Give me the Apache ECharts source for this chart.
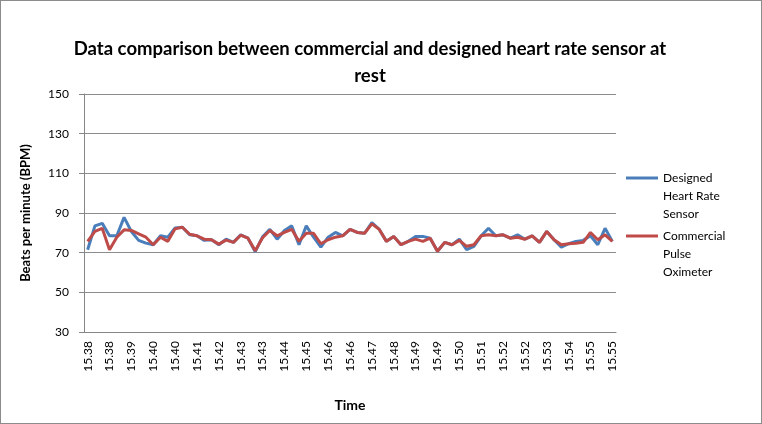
<!DOCTYPE html>
<html>
<head>
<meta charset="utf-8">
<script src="https://cdn.jsdelivr.net/npm/echarts@6/dist/echarts.min.js"></script>
<style>
  html, body { margin: 0; padding: 0; background: #fff; }
  #main { width: 760px; height: 422px; border: 1px solid #8c8c8c; }
</style>
</head>
<body>
<div id="main"></div>
<script>
// time stamps (one per sample)
const times = [
  '15.38','15.38','15.38','15.38','15.39','15.39','15.39','15.39','15.40','15.40',
  '15.40','15.40','15.40','15.41','15.41','15.41','15.41','15.42','15.42','15.42',
  '15.42','15.43','15.43','15.43','15.43','15.43','15.44','15.44','15.44','15.44',
  '15.45','15.45','15.45','15.46','15.46','15.46','15.46','15.46','15.47','15.47',
  '15.47','15.48','15.48','15.48','15.48','15.49','15.49','15.49','15.49','15.49',
  '15.50','15.50','15.50','15.50','15.51','15.51','15.51','15.52','15.52','15.52',
  '15.52','15.52','15.53','15.53','15.53','15.54','15.54','15.54','15.55','15.55',
  '15.55','15.55','15.55'
];

// designed heart rate sensor (BPM)
const designed = [
  71.5, 83.5, 84.8, 78.5, 78.5, 87.8, 80.7, 76.2, 74.8, 74.0,
  78.5, 77.8, 82.5, 82.8, 79.0, 78.5, 76.2, 76.5, 74.0, 76.8,
  75.2, 79.0, 77.3, 70.5, 78.0, 81.8, 76.8, 81.2, 83.5, 74.0,
  83.5, 77.8, 72.8, 77.8, 80.2, 78.5, 81.8, 80.2, 79.8, 85.2,
  81.8, 75.7, 78.2, 74.0, 75.7, 78.2, 78.2, 77.3, 70.7, 75.2,
  74.0, 76.8, 71.5, 73.2, 78.5, 82.3, 78.5, 79.0, 77.3, 79.0,
  76.8, 78.5, 75.2, 80.7, 76.5, 72.8, 74.5, 75.7, 76.2, 78.5,
  74.0, 82.3, 75.7
];

// commercial pulse oximeter (BPM)
const commercial = [
  75.7, 80.7, 82.3, 71.5, 77.8, 81.5, 81.2, 79.5, 77.8, 74.0,
  77.8, 75.7, 82.0, 82.8, 79.3, 78.5, 76.8, 76.5, 74.3, 76.3,
  75.2, 78.8, 77.3, 71.0, 77.5, 81.2, 78.5, 80.2, 81.8, 75.7,
  79.8, 79.8, 74.5, 76.5, 77.8, 78.5, 81.8, 80.2, 79.8, 84.5,
  81.8, 75.7, 78.2, 74.0, 75.7, 76.8, 75.7, 77.3, 70.7, 75.2,
  74.0, 76.2, 73.2, 74.0, 78.5, 79.0, 78.5, 79.0, 77.3, 77.8,
  76.8, 78.5, 75.2, 80.7, 76.5, 74.0, 74.5, 74.8, 75.2, 80.2,
  76.5, 79.0, 75.7
];

const seriesNames = ['Designed\nHeart Rate\nSensor', 'Commercial\nPulse\nOximeter'];
const colors = ['#4a7ebb', '#be4b48'];

const chart = echarts.init(document.getElementById('main'));
const fam = 'Lato, "Open Sans", sans-serif';

// one legend per series so the icon lines up with the first text line
function legendFor(i, top) {
  return {
    orient: 'vertical',
    left: 625,
    top: top,
    padding: 0,
    itemWidth: 32,
    itemHeight: 3,
    icon: 'rect',
    data: [seriesNames[i]],
    formatter: name => '\n\n' + name,
    textStyle: { fontFamily: fam, fontSize: 12, color: '#000', lineHeight: 18 }
  };
}

chart.setOption({
  animation: false,
  backgroundColor: '#fff',
  title: {
    text: 'Data comparison between commercial and designed heart rate sensor at\nrest',
    left: 364,
    textAlign: 'center',
    top: 30,
    textStyle: { fontFamily: fam, fontSize: 18.5, fontWeight: 'bold', color: '#000', lineHeight: 27 }
  },
  legend: [legendFor(0, 132), legendFor(1, 190)],
  grid: { left: 83, right: 145, top: 93, bottom: 91 },
  xAxis: {
    type: 'category',
    data: times,
    boundaryGap: true,
    name: 'Time',
    nameLocation: 'middle',
    nameGap: 66,
    nameTextStyle: { fontFamily: fam, fontSize: 14, fontWeight: 'bold', color: '#000' },
    axisLine: { lineStyle: { color: '#868686', width: 1 } },
    axisTick: { interval: 0, alignWithLabel: false, length: 5, lineStyle: { color: '#868686' } },
    axisLabel: { interval: 2, rotate: 90, fontFamily: fam, fontSize: 12, color: '#000', margin: 9 },
    splitLine: { show: false }
  },
  yAxis: {
    type: 'value',
    min: 30,
    max: 150,
    interval: 20,
    name: 'Beats per minute (BPM)',
    nameLocation: 'middle',
    nameGap: 52,
    nameTextStyle: { fontFamily: fam, fontSize: 13, fontWeight: 'bold', color: '#000' },
    axisLine: { show: true, lineStyle: { color: '#868686', width: 1 } },
    axisTick: { show: true, length: 5, lineStyle: { color: '#868686' } },
    axisLabel: { fontFamily: fam, fontSize: 12, color: '#000', margin: 15 },
    splitLine: { lineStyle: { color: '#8c8c8c', width: 1 } }
  },
  series: [
    {
      name: seriesNames[0],
      type: 'line',
      data: designed,
      showSymbol: false,
      lineStyle: { color: colors[0], width: 3 },
      itemStyle: { color: colors[0] }
    },
    {
      name: seriesNames[1],
      type: 'line',
      data: commercial,
      showSymbol: false,
      lineStyle: { color: colors[1], width: 3 },
      itemStyle: { color: colors[1] }
    }
  ]
});
</script>
</body>
</html>
